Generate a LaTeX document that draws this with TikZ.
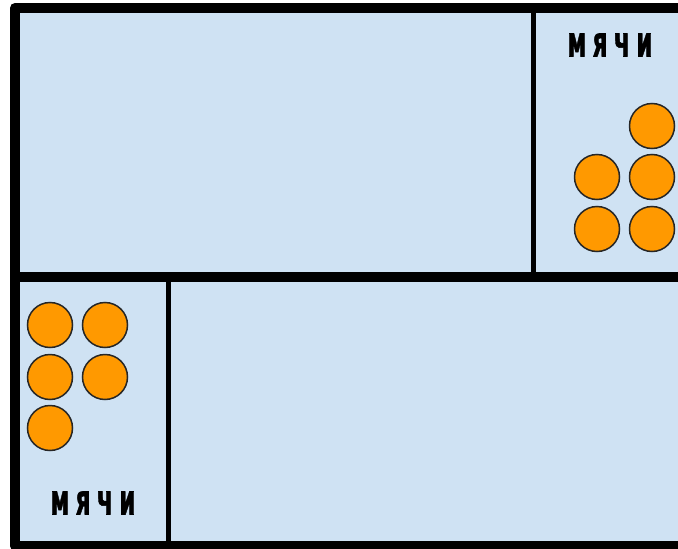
\documentclass[tikz,border=0pt]{standalone}
\usepackage{fontspec}
\newfontfamily\ballfont[FakeBold=1.5]{DejaVu Sans}
\usepackage{tikz}

\definecolor{roomblue}{HTML}{CFE2F3}
\definecolor{ballorange}{HTML}{FF9900}
\newcommand{\ballword}{\scalebox{0.56}[1]{\ballfont\bfseries м\kern11ptя\kern11ptч\kern11ptи}}

\begin{document}
\begin{tikzpicture}[x=1pt,y=-1pt]
		\tikzset{ball/.style={circle,draw=black!85,line width=1.5pt,fill=ballorange,minimum size=45pt,inner sep=0pt}};
		\tikzset{wall/.style={line width=#1,black,line join=round}};
		\tikzset{tag/.style={font=\fontsize{42}{42}\selectfont,inner sep=0pt}};
		\useasboundingbox (0,0) rectangle (678,549);
		\clip (0,0) rectangle (678,549);
		\fill[roomblue] (15,8) rectangle (700,546);
		% walls
		\draw[wall=5pt] (533,8)--(533,277);
		\draw[wall=5pt] (168,277)--(168,546);
		\draw[wall=10pt] (15,277)--(700,277);
		\draw[wall=10pt] (700,8)--(15,8)--(15,546)--(700,546);
		% balls top right
		\node[ball] (b1) at (652,126) {};
		\node[ball] (b2) at (597,177) {};
		\node[ball] (b3) at (652,177) {};
		\node[ball] (b4) at (597,229) {};
		\node[ball] (b5) at (652,229) {};
		\node[tag] (t1) at (610,45) {\ballword};
		% balls bottom left
		\node[ball] (c1) at (50,325) {};
		\node[ball] (c2) at (105,325) {};
		\node[ball] (c3) at (50,377) {};
		\node[ball] (c4) at (105,377) {};
		\node[ball] (c5) at (50,428) {};
		\node[tag] (t2) at (93,503) {\ballword};
	\end{tikzpicture}
\end{document}
